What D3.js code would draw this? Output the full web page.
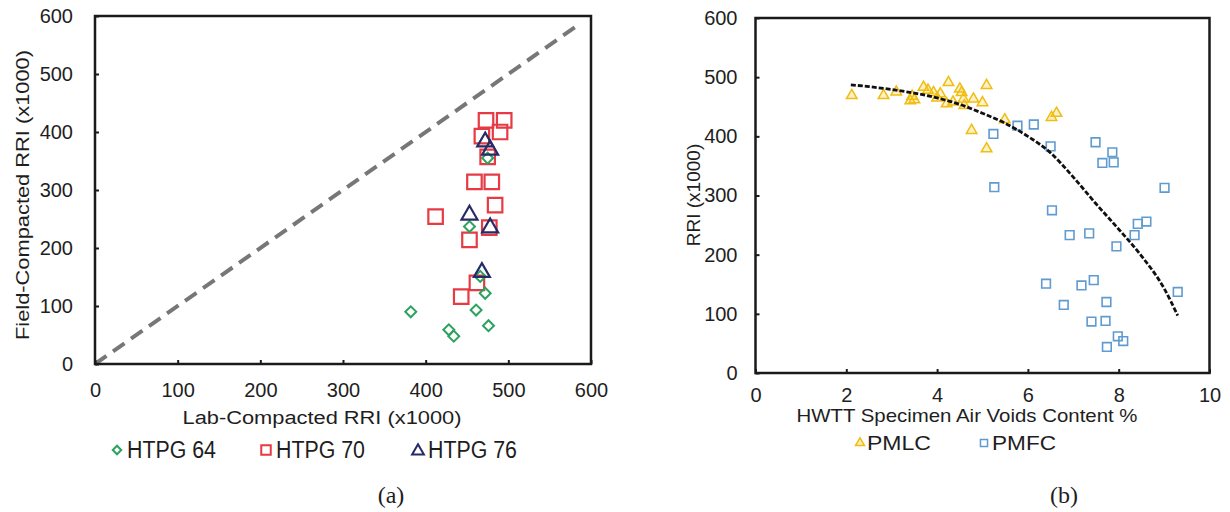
<!DOCTYPE html>
<html><head><meta charset="utf-8">
<script src="https://cdn.jsdelivr.net/npm/d3@7"></script>
<style>
html,body{margin:0;padding:0;background:#fff;}
svg text{font-family:"Liberation Sans",Arial,sans-serif;fill:#1e1e1e;}
</style></head>
<body>
<svg id="chart" width="1230" height="512"></svg>
<script>
// ---------- Panel (a) data ----------
const ticksA = [0, 100, 200, 300, 400, 500, 600];
const htpg64X = [382, 428, 434, 461, 472, 476, 453, 475, 466];
const htpg64Y = [90, 59, 48, 93, 122, 66, 237, 355, 151];
const htpg70X = [473, 495, 490, 468, 475, 459, 480, 484, 412, 453, 462, 443, 477];
const htpg70Y = [420, 420, 400, 393, 357, 314, 314, 274, 254, 214, 140, 116, 235];
const htpg76X = [472, 478, 453, 478, 468];
const htpg76Y = [383, 369, 257, 235, 158];
const equalityLine = [0, 585];

// ---------- Panel (b) data ----------
const ticksBX = [0, 2, 4, 6, 8, 10];
const ticksBY = [0, 100, 200, 300, 400, 500, 600];
const pmlcX = [2.12, 2.82, 3.1, 3.41, 3.5, 3.45, 3.7, 3.8, 3.92, 4.07, 4.0, 4.25, 4.21, 4.35, 4.54, 4.5, 4.58, 4.6, 4.8, 5.0, 5.09, 4.76, 5.09, 5.49, 6.52, 6.63];
const pmlcY = [469, 469, 475, 460, 462, 468, 483, 478, 474, 472, 465, 491, 455, 458, 474, 480, 463, 452, 463, 457, 486, 410, 379, 428, 432, 439];
const pmfcX = [5.24, 5.77, 6.13, 6.5, 7.49, 7.86, 7.64, 7.89, 5.26, 9.01, 6.53, 6.92, 7.35, 8.35, 8.42, 8.61, 7.95, 6.4, 7.18, 7.45, 9.3, 6.79, 7.73, 7.4, 7.71, 7.98, 8.1, 7.74];
const pmfcY = [404, 418, 420, 383, 390, 373, 355, 356, 314, 313, 275, 233, 236, 233, 252, 256, 214, 151, 148, 157, 137, 115, 120, 87, 88, 62, 54, 44];
const trendX = [2.1, 2.5, 3, 3.5, 4, 4.5, 5, 5.5, 6, 6.5, 7, 7.5, 8, 8.5, 9, 9.3];
const trendY = [487, 484, 479, 473, 465, 454, 439, 422, 400, 372, 331, 286, 243, 198, 143, 97];

const svg = d3.select("#chart");

function frame(g, x, y) {
  const [x0, x1] = x.range(), [y0, y1] = y.range();
  g.append("rect").attr("x", x0).attr("y", y1).attr("width", x1 - x0).attr("height", y0 - y1)
    .attr("fill", "none").attr("stroke", "#1a1a1a").attr("stroke-width", 2.5);
}
function axes(g, x, y, tx, ty, padX, padY) {
  const ax = g.append("g").attr("transform", `translate(0,${y.range()[0]})`)
    .call(d3.axisBottom(x).tickValues(tx).tickSizeInner(-4).tickSizeOuter(0).tickPadding(padX));
  const ay = g.append("g").attr("transform", `translate(${x.range()[0]},0)`)
    .call(d3.axisLeft(y).tickValues(ty).tickSizeInner(-4).tickSizeOuter(0).tickPadding(padY));
  [ax, ay].forEach(a => {
    a.select(".domain").remove();
    a.selectAll(".tick line").attr("stroke", "#1a1a1a").attr("stroke-width", 2);
    a.selectAll(".tick text").style("font-size", "20px").style("fill", "#1e1e1e");
  });
}

// ================= Panel (a) =================
const xA = d3.scaleLinear([0, 600], [95, 591]);
const yA = d3.scaleLinear([0, 600], [364, 16]);
const gA = svg.append("g");

gA.append("line")
  .attr("x1", xA(equalityLine[0])).attr("y1", yA(equalityLine[0]))
  .attr("x2", xA(equalityLine[1])).attr("y2", yA(equalityLine[1]))
  .attr("stroke", "#777").attr("stroke-width", 4).attr("stroke-dasharray", "14,8");

const sq = d3.symbol().type(d3.symbolSquare);
const tri = d3.symbol().type(d3.symbolTriangle);

gA.selectAll(".s70").data(htpg70X).join("path")
  .attr("d", sq.size(210)())
  .attr("transform", (d, i) => `translate(${xA(d)},${yA(htpg70Y[i])})`)
  .attr("fill", "none").attr("stroke", "#e63a44").attr("stroke-width", 2.2);
gA.selectAll(".s64").data(htpg64X).join("path")
  .attr("d", sq.size(60)())
  .attr("transform", (d, i) => `translate(${xA(d)},${yA(htpg64Y[i])}) rotate(45)`)
  .attr("fill", "none").attr("stroke", "#2ba35e").attr("stroke-width", 2);
gA.selectAll(".s76").data(htpg76X).join("path")
  .attr("d", tri.size(110)())
  .attr("transform", (d, i) => `translate(${xA(d)},${yA(htpg76Y[i])})`)
  .attr("fill", "none").attr("stroke", "#262a66").attr("stroke-width", 2.2);

frame(gA, xA, yA);
axes(gA, xA, yA, ticksA, ticksA, 19, 22);

gA.append("text").attr("x", 322).attr("y", 424).attr("text-anchor", "middle")
  .attr("textLength", 279).attr("lengthAdjust", "spacingAndGlyphs")
  .style("font-size", "18px").text("Lab-Compacted RRI (x1000)");
gA.append("text").attr("transform", "translate(29,195) rotate(-90)").attr("text-anchor", "middle")
  .attr("textLength", 290).attr("lengthAdjust", "spacingAndGlyphs")
  .style("font-size", "18px").text("Field-Compacted RRI (x1000)");

// legend (a)
const legA = [
  {name: "HTPG 64", x: 117, color: "#2ba35e", shape: "dia"},
  {name: "HTPG 70", x: 266, color: "#e63a44", shape: "sq"},
  {name: "HTPG 76", x: 418, color: "#262a66", shape: "tri"}
];
legA.forEach(l => {
  const p = gA.append("path").attr("fill", "none").attr("stroke", l.color).attr("stroke-width", 2);
  if (l.shape === "dia") p.attr("d", sq.size(36)()).attr("transform", `translate(${l.x},450) rotate(45)`);
  if (l.shape === "sq") p.attr("d", sq.size(90)()).attr("transform", `translate(${l.x},450)`);
  if (l.shape === "tri") p.attr("d", tri.size(60)()).attr("transform", `translate(${l.x},451)`);
  gA.append("text").attr("x", l.x + 10).attr("y", 458)
    .attr("textLength", 89).attr("lengthAdjust", "spacingAndGlyphs")
    .style("font-size", "23px").text(l.name);
});

svg.append("text").attr("x", 391).attr("y", 503).attr("text-anchor", "middle")
  .style("font-family", "'Liberation Serif','Times New Roman',serif").style("font-size", "24px").text("(a)");

// ================= Panel (b) =================
const xB = d3.scaleLinear([0, 10], [755.5, 1209.5]);
const yB = d3.scaleLinear([0, 600], [373, 18]);
const gB = svg.append("g");

gB.selectAll(".pmlc").data(pmlcX).join("path")
  .attr("d", tri.size(48)())
  .attr("transform", (d, i) => `translate(${xB(d)},${yB(pmlcY[i])})`)
  .attr("fill", "rgba(245,200,40,0.25)").attr("stroke", "#f0bd10").attr("stroke-width", 1.5);
gB.selectAll(".pmfc").data(pmfcX).join("path")
  .attr("d", sq.size(75)())
  .attr("transform", (d, i) => `translate(${xB(d)},${yB(pmfcY[i])})`)
  .attr("fill", "none").attr("stroke", "#5f9bd0").attr("stroke-width", 1.6);

const trend = trendX.map((d, i) => [d, trendY[i]]);
gB.append("path").datum(trend)
  .attr("d", d3.line().x(d => xB(d[0])).y(d => yB(d[1])).curve(d3.curveMonotoneX))
  .attr("fill", "none").attr("stroke", "#111").attr("stroke-width", 2.8).attr("stroke-dasharray", "5,2");

frame(gB, xB, yB);
axes(gB, xB, yB, ticksBX, ticksBY, 15, 18);

gB.append("text").attr("x", 967).attr("y", 422).attr("text-anchor", "middle")
  .attr("textLength", 341).attr("lengthAdjust", "spacingAndGlyphs")
  .style("font-size", "19px").text("HWTT Specimen Air Voids Content %");
gB.append("text").attr("transform", "translate(700,195) rotate(-90)").attr("text-anchor", "middle")
  .style("font-size", "19px").text("RRI (x1000)");

// legend (b)
gB.append("path").attr("d", tri.size(35)()).attr("transform", "translate(860,443)")
  .attr("fill", "rgba(245,200,40,0.3)").attr("stroke", "#f0bd10").attr("stroke-width", 1.5);
gB.append("text").attr("x", 867).attr("y", 450).attr("textLength", 64).attr("lengthAdjust", "spacingAndGlyphs")
  .style("font-size", "21px").text("PMLC");
gB.append("path").attr("d", sq.size(50)()).attr("transform", "translate(984,443)")
  .attr("fill", "none").attr("stroke", "#5f9bd0").attr("stroke-width", 1.5);
gB.append("text").attr("x", 992).attr("y", 450).attr("textLength", 64).attr("lengthAdjust", "spacingAndGlyphs")
  .style("font-size", "21px").text("PMFC");

svg.append("text").attr("x", 1064).attr("y", 503).attr("text-anchor", "middle")
  .style("font-family", "'Liberation Serif','Times New Roman',serif").style("font-size", "24px").text("(b)");
</script>
</body></html>
